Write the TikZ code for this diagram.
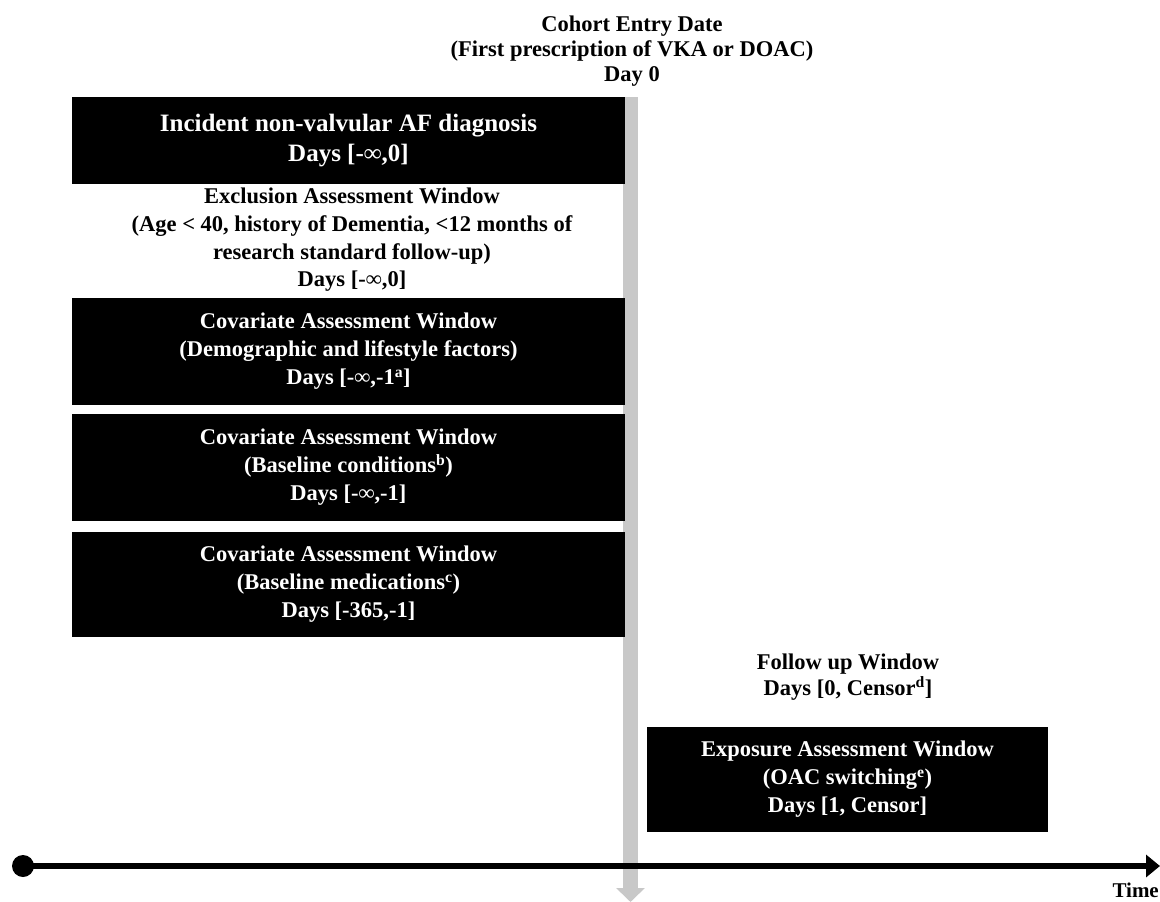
\documentclass[tikz,border=0pt]{standalone}
\usepackage{fontspec}
\setmainfont{Liberation Serif}
\usetikzlibrary{arrows.meta}
\definecolor{bargrey}{RGB}{200,200,200}

\begin{document}
\begin{tikzpicture}[x=1pt,y=-1pt,
  window/.style={fill=black,text=white,align=center,inner sep=0pt,
    minimum width=553pt,font=\bfseries\fontsize{22.5}{28}\selectfont},
  plaintext/.style={align=center,inner sep=0pt,font=\bfseries\fontsize{22.5}{27}\selectfont}]
\useasboundingbox (0,0) rectangle (1160,902);
% day 0 bar
\coordinate (bartop) at (630.5,97);
\coordinate (barend) at (630.5,902);
\draw [bargrey, line width=15pt, -{Triangle[width=28pt,length=14pt]}] (bartop) -- (barend);
\node [plaintext, font=\bfseries\fontsize{22.5}{25}\selectfont] (entry) at (632,51)
  {Cohort Entry Date\\(First prescription of VKA or DOAC)\\Day 0};
% windows before day 0
\node [window, minimum height=87pt, font=\bfseries\fontsize{25}{30}\selectfont] (incident) at (348.5,140.5)
  {Incident non-valvular AF diagnosis\\Days [-∞,0]};
\node [plaintext, font=\bfseries\fontsize{22.5}{27.7}\selectfont] (exclusion) at (352,240)
  {Exclusion Assessment Window\\(Age < 40, history of Dementia, <12 months of\\research standard follow-up)\\Days [-∞,0]};
\node [window, minimum height=107pt] (covdemo) at (348.5,351.5)
  {Covariate Assessment Window\\(Demographic and lifestyle factors)\\Days [-∞,-1\textsuperscript{a}]};
\node [window, minimum height=107pt] (covcond) at (348.5,467.5)
  {Covariate Assessment Window\\(Baseline conditions\textsuperscript{b})\\Days [-∞,-1]};
\node [window, minimum height=105pt] (covmed) at (348.5,584.5)
  {Covariate Assessment Window\\(Baseline medications\textsuperscript{c})\\Days [-365,-1]};
% windows after day 0
\node [plaintext, font=\bfseries\fontsize{22.5}{26}\selectfont] (followup) at (848,677)
  {Follow up Window\\Days [0, Censor\textsuperscript{d}]};
\node [window, minimum width=401pt, minimum height=105pt] (exposure) at (847.5,779.5)
  {Exposure Assessment Window\\(OAC switching\textsuperscript{e})\\Days [1, Censor]};
% time axis
\coordinate (tstart) at (23,866);
\coordinate (tend) at (1160,866);
\draw [line width=6pt, -{Triangle[width=22pt,length=14pt]}] (tstart) -- (tend);
\fill (tstart) circle (11pt);
\node [plaintext, font=\bfseries\fontsize{21}{25}\selectfont, anchor=base east] (time) at (1159,897) {Time};
\end{tikzpicture}
\end{document}
